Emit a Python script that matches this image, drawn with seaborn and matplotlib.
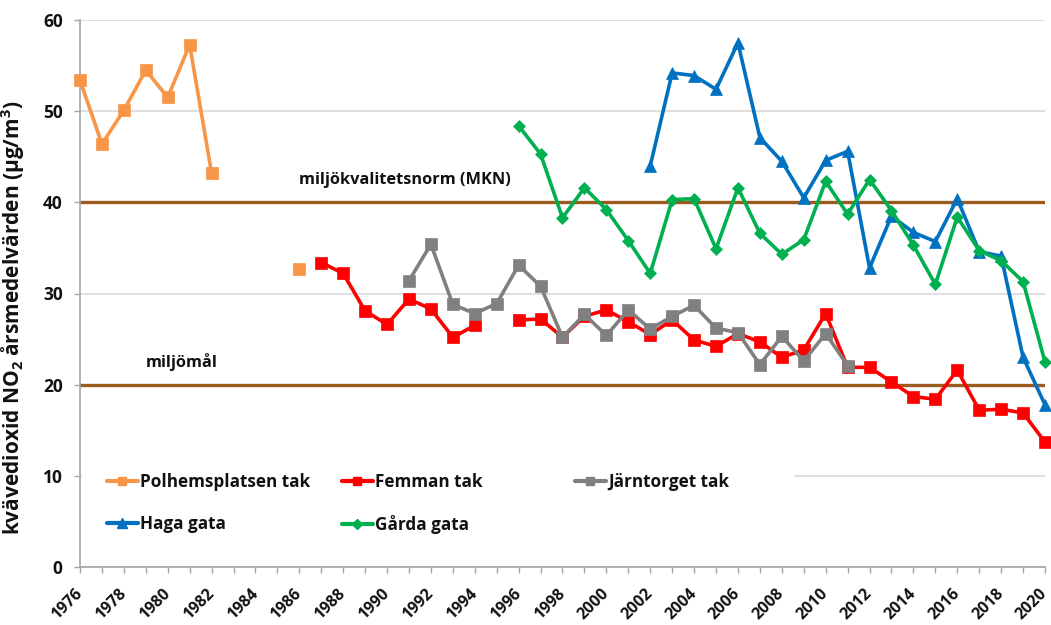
import numpy as np
import pandas as pd
import seaborn as sns
import matplotlib.pyplot as plt
from matplotlib.lines import Line2D
from matplotlib.patches import Rectangle

# ---------------- data ----------------
polhem_years = [1976, 1977, 1978, 1979, 1980, 1981, 1982, 1986]
polhem_vals = [53.4, 46.4, 50.1, 54.5, 51.5, 57.3, 43.2, 32.7]

femman_years = [1987, 1988, 1989, 1990, 1991, 1992, 1993, 1994,
                1996, 1997, 1998, 1999, 2000, 2001, 2002, 2003, 2004, 2005,
                2006, 2007, 2008, 2009, 2010, 2011, 2012, 2013, 2014, 2015,
                2016, 2017, 2018, 2019, 2020]
femman_vals = [33.4, 32.2, 28.1, 26.6, 29.4, 28.3, 25.2, 26.5,
               27.1, 27.2, 25.2, 27.5, 28.2, 26.9, 25.5, 27.1, 24.9, 24.2,
               25.6, 24.7, 23.0, 23.8, 27.8, 21.9, 21.9, 20.3, 18.7, 18.4,
               21.6, 17.2, 17.3, 16.9, 13.7]

jarntorget_years = [1991, 1992, 1993, 1994, 1995, 1996, 1997, 1998, 1999, 2000,
                    2001, 2002, 2003, 2004, 2005, 2006, 2007, 2008, 2009, 2010, 2011]
jarntorget_vals = [31.4, 35.4, 28.8, 27.8, 28.9, 33.1, 30.8, 25.2, 27.7, 25.4,
                   28.2, 26.1, 27.5, 28.7, 26.2, 25.7, 22.2, 25.3, 22.6, 25.6, 22.1]

haga_years = [2002, 2003, 2004, 2005, 2006, 2007, 2008, 2009, 2010, 2011,
              2012, 2013, 2014, 2015, 2016, 2017, 2018, 2019, 2020]
haga_vals = [44.0, 54.2, 53.9, 52.4, 57.5, 47.1, 44.5, 40.5, 44.6, 45.6,
             32.8, 38.5, 36.7, 35.7, 40.4, 34.6, 34.1, 23.0, 17.8]

garda_years = list(range(1996, 2021))
garda_vals = [48.4, 45.3, 38.3, 41.6, 39.2, 35.8, 32.2, 40.3, 40.4, 34.9,
              41.6, 36.6, 34.3, 35.9, 42.3, 38.7, 42.5, 39.1, 35.3, 31.0,
              38.4, 34.7, 33.6, 31.3, 22.5]

series_names = ["Polhemsplatsen tak", "Femman tak", "Järntorget tak", "Haga gata", "Gårda gata"]
series_colors = ["#F79646", "#FF0000", "#808080", "#0070C0", "#00B050"]

x_labels_years = list(range(1976, 2021, 2))
y_ticks = [0, 10, 20, 30, 40, 50, 60]
mkn_value = 40
miljomal_value = 20
mkn_label = "miljökvalitetsnorm (MKN)"
miljomal_label = "miljömål"
y_label = "kvävedioxid NO$_2$ årsmedelvärden (µg/m$^3$)"

# ---------------- style ----------------
FONT = 'Open Sans'
TXT = '#111111'
sns.set_theme(style="white")
plt.rcParams['font.family'] = [FONT, 'DejaVu Sans']
plt.rcParams['font.weight'] = 'bold'
plt.rcParams['mathtext.fontset'] = 'custom'
plt.rcParams['mathtext.rm'] = FONT + ':bold'
plt.rcParams['mathtext.bf'] = FONT + ':bold'
plt.rcParams['mathtext.default'] = 'bf'
plt.rcParams['text.color'] = TXT

W, H = 1051, 625
fig = plt.figure(figsize=(W / 100, H / 100), dpi=100)
ax = fig.add_axes([80 / W, 1 - 567 / H, 965 / W, 547 / H])


def segments(years, vals):
    segs = []
    cx, cy = [years[0]], [vals[0]]
    for yr, v in zip(years[1:], vals[1:]):
        if yr - cx[-1] > 1:
            segs.append((cx, cy))
            cx, cy = [yr], [v]
        else:
            cx.append(yr)
            cy.append(v)
    segs.append((cx, cy))
    return segs


all_series = [
    (polhem_years, polhem_vals, "s", 8),
    (femman_years, femman_vals, "s", 8),
    (jarntorget_years, jarntorget_vals, "s", 8),
    (haga_years, haga_vals, "^", 9),
    (garda_years, garda_vals, "D", 6.5),
]

for (yrs, vals, mk, ms), color in zip(all_series, series_colors):
    for sx, sy in segments(yrs, vals):
        sns.lineplot(x=sx, y=sy, ax=ax, color=color, marker=mk, markersize=ms,
                     markeredgecolor=color, markeredgewidth=0.5, linewidth=2.6,
                     legend=False, zorder=3, clip_on=False)

ax.axhline(mkn_value, color="#9C5A1E", lw=2.4, zorder=2.5)
ax.axhline(miljomal_value, color="#9C5A1E", lw=2.4, zorder=2.5)
ax.text(1986.0, 42.4, mkn_label, fontsize=11.8, fontweight='bold', va='center', ha='left', color=TXT)
ax.text(1979.0, 22.5, miljomal_label, fontsize=11.8, fontweight='bold', va='center', ha='left', color=TXT)

ax.set_xlim(1976, 2020)
ax.set_ylim(0, 60)
ax.set_yticks(y_ticks)
ax.set_yticklabels([str(v) for v in y_ticks], fontsize=12.5, fontweight='bold', color=TXT)
ax.set_xticks(x_labels_years)
ax.set_xticks([y for y in range(1977, 2021, 2)], minor=True)
ax.set_xticklabels([str(y) for y in x_labels_years], fontsize=11.5, fontweight='bold', color=TXT)
ax.tick_params(axis='x', which='both', direction='out', length=4.5, color='#A6A6A6', width=1,
               bottom=True, pad=13, labelrotation=45)
ax.tick_params(axis='y', which='major', direction='out', length=4.5, color='#A6A6A6', width=1, left=True, pad=8)
plt.setp(ax.get_xticklabels(), rotation=45, ha='right', va='center', rotation_mode='anchor')
ax.yaxis.grid(True, color='#D9D9D9', lw=1.2, zorder=0)
ax.xaxis.grid(False)
ax.set_axisbelow(True)
for s in ['top', 'right']:
    ax.spines[s].set_visible(False)
for s in ['left', 'bottom']:
    ax.spines[s].set_color('#A6A6A6')
    ax.spines[s].set_linewidth(1.2)

ax.set_ylabel(y_label, fontsize=15, fontweight='bold', color=TXT)
ax.yaxis.set_label_coords(-0.055, 0.455)

# white background behind legend
ax.add_patch(Rectangle((0.002, 0.040), 0.738, 0.158, transform=ax.transAxes,
                       facecolor='white', edgecolor='none', zorder=2))

handles = []
for (yrs, vals, mk, ms), color, name in zip(all_series, series_colors, series_names):
    handles.append(Line2D([], [], color=color, marker=mk, markersize=ms * 0.8,
                          markeredgecolor=color, lw=3, label=name))

cols = [([handles[0], handles[3]], 107), ([handles[1], handles[4]], 342), ([handles[2]], 575)]
for hs, xpx in cols:
    leg = fig.legend(handles=hs, loc='upper left', bbox_to_anchor=(xpx / W, 1 - 473 / H),
                     frameon=False, fontsize=12.3, handlelength=1.8, handletextpad=0.15,
                     borderpad=0, borderaxespad=0, labelspacing=1.4)
    for t in leg.get_texts():
        t.set_fontweight('bold')
        t.set_color(TXT)

fig.savefig("out.png", dpi=100)
